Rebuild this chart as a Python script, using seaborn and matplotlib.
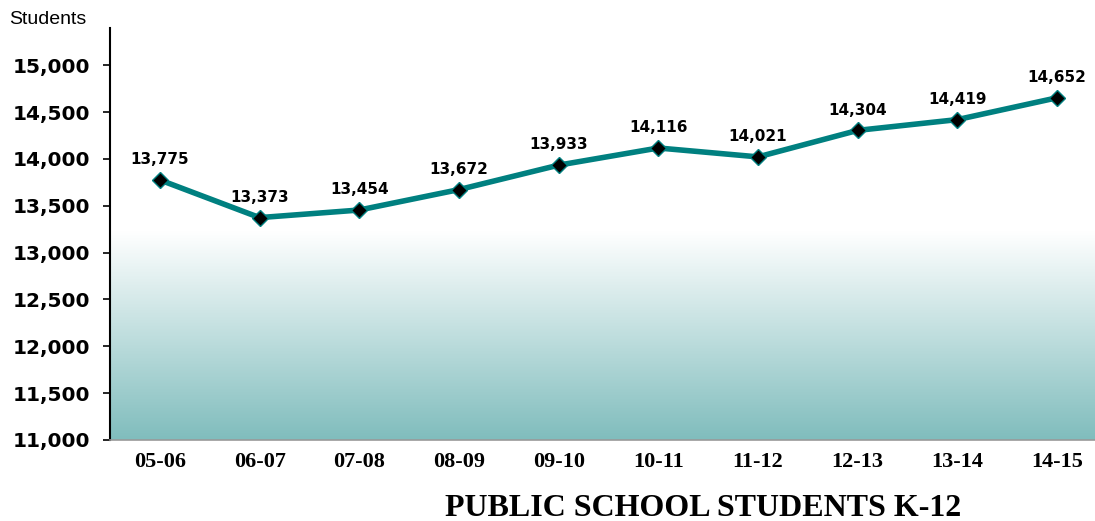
import numpy as np
import pandas as pd
import matplotlib
matplotlib.use("Agg")
import matplotlib.pyplot as plt
import seaborn as sns
from matplotlib.colors import LinearSegmentedColormap

years = ["05-06", "06-07", "07-08", "08-09", "09-10", "10-11", "11-12", "12-13", "13-14", "14-15"]
students = [13775, 13373, 13454, 13672, 13933, 14116, 14021, 14304, 14419, 14652]
y_ticks = [11000, 11500, 12000, 12500, 13000, 13500, 14000, 14500, 15000]

sns.set_theme(style="white")
plt.rcParams['font.family'] = ['DejaVu Sans']

df = pd.DataFrame({"year": years, "students": students})
df["pos"] = np.arange(len(years))

fig = plt.figure(figsize=(10.95, 5.21), dpi=100)
ax = fig.add_axes([0.1005, 0.1555, 0.8995, 0.7905])

ax.set_xlim(-0.5, 9.38)
ax.set_ylim(11000, 15395)

# gradient background
cmap = LinearSegmentedColormap.from_list("g", ["#80bdbd", "#ffffff"])
grad = np.linspace(0, 1, 256).reshape(-1, 1)
ax.imshow(grad, aspect="auto", cmap=cmap, origin="lower",
          extent=(-0.5, 9.38, 11000, 13230), zorder=0)

sns.lineplot(data=df, x="pos", y="students", ax=ax, color="#008080",
             linewidth=4.0, marker="D", markersize=8.5, markerfacecolor="black",
             markeredgecolor="#008080", markeredgewidth=1.0, zorder=3)

for p, v in zip(df["pos"], students):
    ax.text(p, v + 135, f"{v:,}", ha="center", va="bottom", fontsize=11,
            fontfamily="DejaVu Sans", fontweight="bold", color="black", zorder=4)

ax.set_xticks(df["pos"])
ax.set_xticklabels(years, fontfamily="Liberation Serif", fontweight="bold",
                   fontsize=16, color="black")
ax.set_yticks(y_ticks)
ax.set_yticklabels([f"{t:,}" for t in y_ticks], fontfamily="DejaVu Sans",
                   fontweight="bold", fontsize=14.5, color="black")
ax.tick_params(axis="y", length=5, width=1.2, color="black", pad=9, left=True)
ax.tick_params(axis="x", length=0, pad=9)
ax.set_xlabel("")
ax.set_ylabel("")

for s in ["top", "right"]:
    ax.spines[s].set_visible(False)
ax.spines["left"].set_color("black")
ax.spines["left"].set_linewidth(1.5)
ax.spines["bottom"].set_color("#999999")
ax.spines["bottom"].set_linewidth(1.2)

fig.text(9 / 1095, 1 - 20 / 521, "Students", fontfamily="Liberation Sans",
         fontsize=14, ha="left", va="center", color="black")
fig.text(703 / 1095, 1 - 508 / 521, "PUBLIC SCHOOL STUDENTS K-12",
         fontfamily="Liberation Serif", fontweight="bold", fontsize=23,
         ha="center", va="center", color="black")

fig.savefig("out.png", dpi=100)
